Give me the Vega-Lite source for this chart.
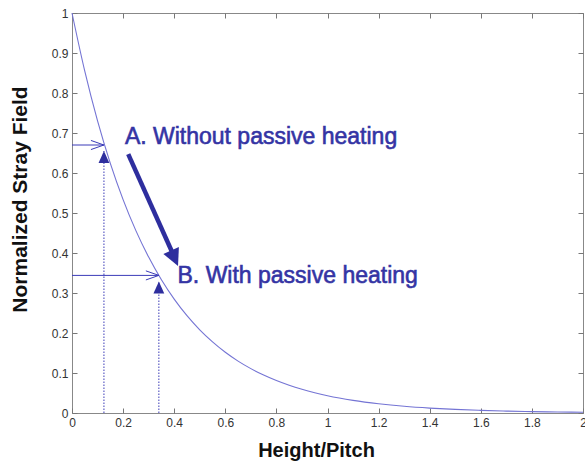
{
  "$schema": "https://vega.github.io/schema/vega-lite/v6.json",
  "width": 511,
  "height": 400,
  "autosize": {"type": "none"},
  "padding": {"left": 72, "top": 13, "right": 2, "bottom": 50},
  "background": "white",
  "config": {
    "view": {"stroke": "#888888", "strokeWidth": 1},
    "axis": {
      "grid": false,
      "domain": false,
      "tickColor": "#777777",
      "tickSize": -5,
      "labelFlush": false,
      "labelFont": "Liberation Sans",
      "labelFontSize": 12,
      "labelColor": "#333333",
      "titleFont": "Liberation Sans",
      "titleFontSize": 20,
      "titleFontWeight": "bold",
      "titleColor": "#111111"
    }
  },
  "datasets": {
    "curve": [
      {"h": 0, "f": 1}, {"h": 0.05, "f": 0.8546}, {"h": 0.1, "f": 0.7304}, {"h": 0.15, "f": 0.6242},
      {"h": 0.2, "f": 0.5335}, {"h": 0.25, "f": 0.4559}, {"h": 0.3, "f": 0.3897}, {"h": 0.35, "f": 0.333},
      {"h": 0.4, "f": 0.2846}, {"h": 0.45, "f": 0.2432}, {"h": 0.5, "f": 0.2079}, {"h": 0.55, "f": 0.1777},
      {"h": 0.6, "f": 0.1518}, {"h": 0.65, "f": 0.1297}, {"h": 0.7, "f": 0.1109}, {"h": 0.75, "f": 0.0948},
      {"h": 0.8, "f": 0.081}, {"h": 0.85, "f": 0.0692}, {"h": 0.9, "f": 0.0592}, {"h": 0.95, "f": 0.0506},
      {"h": 1.0, "f": 0.0432}, {"h": 1.1, "f": 0.0316}, {"h": 1.2, "f": 0.0231}, {"h": 1.3, "f": 0.0168},
      {"h": 1.4, "f": 0.0123}, {"h": 1.5, "f": 0.009}, {"h": 1.6, "f": 0.0066}, {"h": 1.7, "f": 0.0048},
      {"h": 1.8, "f": 0.0035}, {"h": 1.9, "f": 0.0026}, {"h": 2.0, "f": 0.0019}
    ],
    "marks": [
      {"label": "A", "zero": 0, "hx": 0.125, "hy": 0.67, "tipy": 0.655},
      {"label": "B", "zero": 0, "hx": 0.34, "hy": 0.344, "tipy": 0.329}
    ],
    "texts": [
      {"t": "A. Without passive heating", "x": 0.207, "y": 0.689},
      {"t": "B. With passive heating", "x": 0.413, "y": 0.342}
    ],
    "bigarrow": [
      {"x1": 0.22, "y1": 0.647, "x2": 0.39, "y2": 0.405, "tx": 0.415, "ty": 0.3675}
    ]
  },
  "resolve": {"axis": {"x": "independent", "y": "independent"}},
  "layer": [
    {
      "data": {"name": "curve"},
      "mark": {"type": "line", "color": "#7474d4", "strokeWidth": 1.1, "interpolate": "monotone"},
      "encoding": {
        "x": {"field": "h", "type": "quantitative", "scale": {"domain": [0, 2], "nice": false},
              "axis": {"orient": "bottom", "title": "Height/Pitch", "format": "~g", "tickCount": 10, "labelPadding": 9,
                       "titleX": 244, "titleY": 37, "titleBaseline": "middle", "titleAlign": "center"}},
        "y": {"field": "f", "type": "quantitative", "scale": {"domain": [0, 1], "nice": false},
              "axis": {"orient": "left", "title": "Normalized Stray Field", "format": "~g", "tickCount": 10, "labelPadding": 9,
                       "titleFontSize": 21, "titleX": -52, "titleY": 186, "titleBaseline": "middle", "titleAlign": "center", "titleAngle": -90}}
      }
    },
    {
      "data": {"name": "marks"},
      "mark": {"type": "rule", "color": "#3b3bb8", "strokeWidth": 1},
      "encoding": {
        "x": {"field": "zero", "type": "quantitative", "axis": {"orient": "top", "labels": false, "title": null, "tickCount": 10}},
        "x2": {"field": "hx"},
        "y": {"field": "hy", "type": "quantitative", "axis": {"orient": "right", "labels": false, "title": null, "tickCount": 10}}
      }
    },
    {
      "data": {"name": "marks"},
      "mark": {"type": "rule", "color": "#3b3bb8", "strokeWidth": 1, "strokeDash": [1.5, 1.5]},
      "encoding": {
        "x": {"field": "hx", "type": "quantitative", "axis": null},
        "y": {"field": "zero", "type": "quantitative", "axis": null},
        "y2": {"field": "tipy"}
      }
    },
    {
      "data": {"name": "marks"},
      "mark": {"type": "point", "shape": "M-1,-0.35L0,0L-1,0.35", "filled": false, "color": "#3b3bb8", "strokeWidth": 1, "size": 676, "opacity": 1},
      "encoding": {
        "x": {"field": "hx", "type": "quantitative", "axis": null},
        "y": {"field": "hy", "type": "quantitative", "axis": null}
      }
    },
    {
      "data": {"name": "marks"},
      "mark": {"type": "point", "shape": "M0,0L-0.45,1L0.45,1Z", "filled": true, "color": "#2e2e9e", "size": 576, "opacity": 1},
      "encoding": {
        "x": {"field": "hx", "type": "quantitative", "axis": null},
        "y": {"field": "tipy", "type": "quantitative", "axis": null}
      }
    },
    {
      "data": {"name": "bigarrow"},
      "mark": {"type": "rule", "color": "#2e2e9e", "strokeWidth": 4.5},
      "encoding": {
        "x": {"field": "x1", "type": "quantitative", "axis": null},
        "y": {"field": "y1", "type": "quantitative", "axis": null},
        "x2": {"field": "x2"},
        "y2": {"field": "y2"}
      }
    },
    {
      "data": {"name": "bigarrow"},
      "mark": {"type": "point", "shape": "M0,0L-0.5,1L0.5,1Z", "filled": true, "color": "#2e2e9e", "size": 1156, "angle": 156, "opacity": 1},
      "encoding": {
        "x": {"field": "tx", "type": "quantitative", "axis": null},
        "y": {"field": "ty", "type": "quantitative", "axis": null}
      }
    },
    {
      "data": {"name": "texts"},
      "mark": {"type": "text", "align": "left", "baseline": "middle", "font": "Liberation Sans", "fontSize": 23, "color": "#3434a4", "stroke": "#3434a4", "strokeWidth": 0.6},
      "encoding": {
        "x": {"field": "x", "type": "quantitative", "axis": null},
        "y": {"field": "y", "type": "quantitative", "axis": null},
        "text": {"field": "t"}
      }
    }
  ]
}
